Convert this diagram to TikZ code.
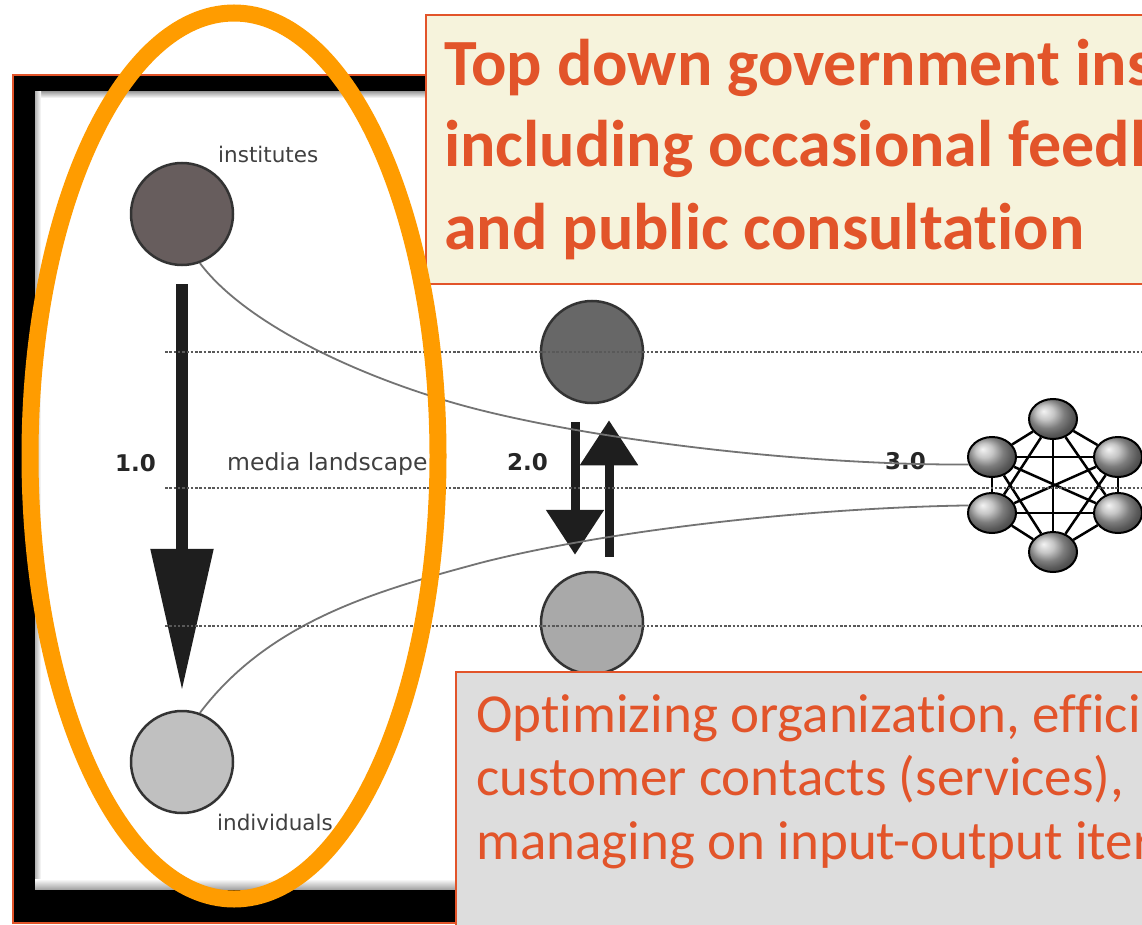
\documentclass[tikz,border=0pt]{standalone}
\usepackage{fontspec}
\setmainfont[Ligatures=NoCommon]{Carlito}
\newfontfamily\dejavu{DejaVu Sans}
\usetikzlibrary{arrows.meta,shapes.geometric}
\definecolor{accent}{HTML}{E2542A}
\definecolor{cream}{HTML}{F6F3DC}
\definecolor{boxgray}{HTML}{DDDDDD}
\definecolor{hilite}{HTML}{FF9C00}
\definecolor{instfill}{HTML}{675D5D}
\definecolor{indivfill}{HTML}{C0C0C0}
\definecolor{topfill}{HTML}{676767}
\definecolor{botfill}{HTML}{A9A9A9}
\definecolor{arrowdark}{HTML}{1E1E1E}
\begin{document}
\begin{tikzpicture}[x=1pt,y=-1pt,
  circ/.style={circle,draw=black!80,line width=2.5pt,minimum size=102pt,inner sep=0pt},
  ball/.style={ellipse,draw=black,line width=2pt,minimum width=48pt,minimum height=40pt,inner sep=0pt,ball color=gray!60},
  web/.style={line width=2.5pt,black},
  lbl/.style={font=\dejavu\fontsize{21.5}{25}\selectfont,text=black!75,inner sep=0pt,anchor=base west},
  num/.style={font=\dejavu\bfseries\fontsize{23}{27}\selectfont,text=black!85,inner sep=0pt,anchor=base west},
  curve/.style={line width=1.8pt,black!55},
  dots/.style={line width=2.6pt,black!65,dash pattern=on 2.5pt off 1.8pt},
  bigarrow/.style={line width=12pt,arrowdark,-{Triangle[length=142pt,width=60pt]}},
  smallarrow/.style={line width=9pt,arrowdark,-{Triangle[length=45pt,width=56pt]}},
  headtext/.style={font=\bfseries\fontsize{66}{80}\selectfont,text=accent,inner sep=0pt,anchor=base west},
  bodytext/.style={font=\fontsize{55}{66}\selectfont,text=accent,inner sep=0pt,anchor=base west}]
\useasboundingbox (0,0) rectangle (1142,925);
\clip (0,0) rectangle (1142,925);
\fill[white] (0,0) rectangle (1142,925);
% frame
\fill[black] (13,75) rectangle (1160,923);
\draw[accent,line width=2pt] (13,75) rectangle (1160,923);
\fill[white] (35,92) rectangle (1160,889);
\shade[top color=gray!70,bottom color=white] (35,92) rectangle (1160,98);
\shade[left color=gray!60,right color=white] (35,92) rectangle (41,889);
\shade[top color=white,bottom color=gray!70] (35,879) rectangle (1160,889);
% column 1.0
\node[circ,fill=instfill] (inst) at (182,214) {};
\node[circ,fill=indivfill] (indiv) at (182,762) {};
\node[lbl] (instlbl) at (218,163) {institutes};
\node[lbl] (indivlbl) at (217,830) {individuals};
\draw[bigarrow] ([yshift=-18pt]inst.south) -- ([yshift=19pt]indiv.north);
\node[num] (n1) at (115,471) {1.0};
\node[lbl,font=\dejavu\fontsize{23.5}{27}\selectfont] (media) at (227,470) {media landscape};
% column 2.0
\node[circ,fill=topfill] (t2) at (592,352) {};
\node[circ,fill=botfill] (b2) at (592,623) {};
\draw[smallarrow] ([xshift=-17pt,yshift=-18pt]t2.south) -- ([xshift=-17pt,yshift=16pt]b2.north);
\draw[smallarrow] ([xshift=17pt,yshift=14pt]b2.north) -- ([xshift=17pt,yshift=-16pt]t2.south);
\node[num] (n2) at (507,470) {2.0};
% column 3.0
\node[ball] (c1) at (1053,419) {};
\node[ball] (c2) at (992,457) {};
\node[ball] (c3) at (1118,457) {};
\node[ball] (c4) at (992,513) {};
\node[ball] (c5) at (1118,513) {};
\node[ball] (c6) at (1053,552) {};
\foreach \a/\b in {c1/c2,c1/c3,c1/c4,c1/c5,c1/c6,c2/c3,c2/c4,c2/c5,c2/c6,c3/c4,c3/c5,c3/c6,c4/c5,c4/c6,c5/c6}
  \draw[web] (\a) -- (\b);
\node[num] (n3) at (885,469) {3.0};
% curves
\draw[curve] (inst.-70) .. controls (250,330) and (380,385) .. (480,410)
  .. controls (600,440) and (800,465) .. (c2.198);
\draw[curve] (indiv.70) .. controls (270,620) and (380,590) .. (480,563)
  .. controls (600,532) and (800,508) .. (c4.162);
% dotted levels
\coordinate (d1a) at (165,352); \coordinate (d1b) at (1142,352);
\coordinate (d2a) at (165,488); \coordinate (d2b) at (1142,488);
\coordinate (d3a) at (165,626); \coordinate (d3b) at (1142,626);
\draw[dots] (d1a) -- (d1b);
\draw[dots] (d2a) -- (d2b);
\draw[dots] (d3a) -- (d3b);
% top box
\node[draw=accent,line width=2pt,fill=cream,minimum width=760pt,minimum height=269pt,anchor=north west,inner sep=0pt] (topbox) at (425,14) {};
\node[headtext] (h1) at (444,86) {Top down government ins};
\node[headtext] (h2) at (444,167) {including occasional feedl};
\node[headtext] (h3) at (444,250) {and public consultation};
% highlight ellipse
\draw[hilite,line width=17pt] (234,456) ellipse [x radius=204pt,y radius=443pt];
% bottom box
\node[draw=accent,line width=2pt,fill=boxgray,minimum width=760pt,minimum height=300pt,anchor=north west,inner sep=0pt] (botbox) at (455,671) {};
\node[bodytext] (b1) at (476,732) {Optimizing organization, effici};
\node[bodytext] (bb2) at (476,795) {customer contacts (services),};
\node[bodytext] (bb3) at (476,859) {managing on input-output iter};
\end{tikzpicture}
\end{document}
